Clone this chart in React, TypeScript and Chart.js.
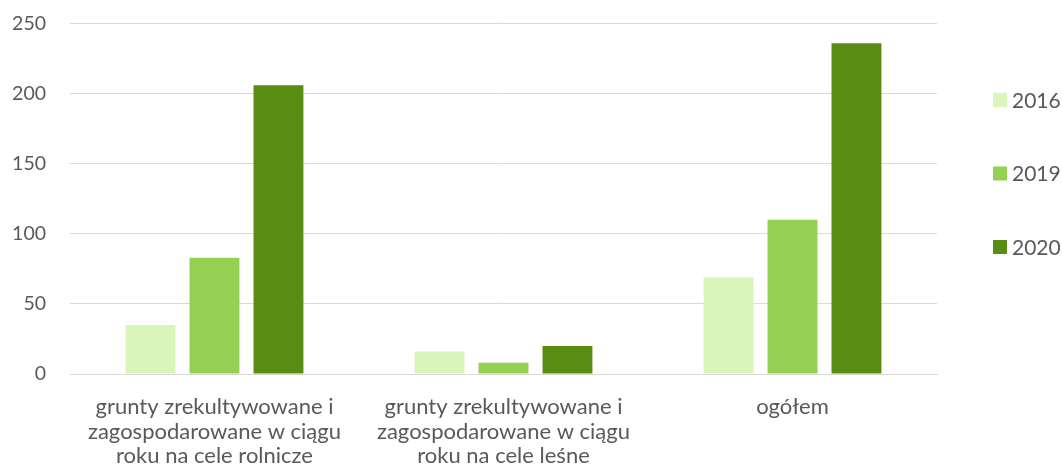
import React, { useEffect, useRef } from "react";
import { Chart, registerables } from "chart.js";

Chart.register(...registerables);

const categories: string[][] = [
  ["grunty zrekultywowane i", "zagospodarowane w ciągu", "roku na cele rolnicze"],
  ["grunty zrekultywowane i", "zagospodarowane w ciągu", "roku na cele leśne"],
  ["ogółem"],
];
const seriesLabels = ["2016", "2019", "2020"];
const values2016 = [35, 16, 69];
const values2019 = [83, 8, 110];
const values2020 = [206, 20, 236];
const yTicks = [0, 50, 100, 150, 200, 250];

const colors = ["#DAF5BA", "#94D152", "#588C12"];
const textColor = "#595959";
const gridColor = "#D9D9D9";
const fontFamily = "Lato, 'Open Sans', sans-serif";

const legendPlugin = {
  id: "sideLegend",
  afterDraw(chart: any) {
    const ctx = chart.ctx;
    const startY = 100;
    const step = 73.5;
    const x = 993;
    ctx.save();
    ctx.font = `21px ${fontFamily}`;
    ctx.textBaseline = "middle";
    ctx.textAlign = "left";
    chart.data.datasets.forEach((ds: any, i: number) => {
      const y = startY + i * step;
      ctx.fillStyle = ds.backgroundColor;
      ctx.fillRect(x, y - 7, 14, 14);
      ctx.fillStyle = textColor;
      ctx.fillText(ds.label, x + 19, y + 1);
    });
    ctx.restore();
  },
};

export default function App() {
  const canvasRef = useRef<HTMLCanvasElement | null>(null);

  useEffect(() => {
    document.body.style.margin = "0";
    const canvas = canvasRef.current;
    if (!canvas) return;
    const datasetValues = [values2016, values2019, values2020];
    const chart = new Chart(canvas, {
      type: "bar",
      data: {
        labels: categories,
        datasets: seriesLabels.map((label, i) => ({
          label,
          data: datasetValues[i],
          backgroundColor: colors[i],
          categoryPercentage: 0.664,
          barPercentage: 0.78,
        })),
      },
      options: {
        animation: false,
        responsive: true,
        maintainAspectRatio: false,
        layout: { padding: { top: 23.5, right: 125, left: 0, bottom: 0 } },
        plugins: {
          legend: { display: false },
          tooltip: { enabled: false },
        },
        scales: {
          x: {
            grid: { display: false, drawTicks: false },
            border: { display: true, color: gridColor, width: 1 },
            ticks: {
              color: textColor,
              font: { family: fontFamily, size: 22, lineHeight: 1.11 },
              padding: 21,
              maxRotation: 0,
              autoSkip: false,
            },
            afterFit(scale: any) {
              scale.height = 99;
              scale.paddingTop = 0;
              scale.paddingBottom = 0;
            },
          },
          y: {
            min: 0,
            max: 250,
            afterBuildTicks(scale: any) {
              scale.ticks = yTicks.map((v) => ({ value: v }));
            },
            grid: { color: gridColor, lineWidth: 1, drawTicks: false },
            border: { display: false },
            ticks: {
              color: textColor,
              font: { family: fontFamily, size: 19.5 },
              padding: 24,
            },
            afterFit(scale: any) {
              scale.width = 70;
              scale.paddingTop = 0;
              scale.paddingBottom = 0;
            },
          },
        },
      },
      plugins: [legendPlugin],
    });
    return () => chart.destroy();
  }, []);

  return (
    <div style={{ position: "absolute", left: 0, top: 0, width: 1062, height: 473 }}>
      <canvas ref={canvasRef} />
    </div>
  );
}
